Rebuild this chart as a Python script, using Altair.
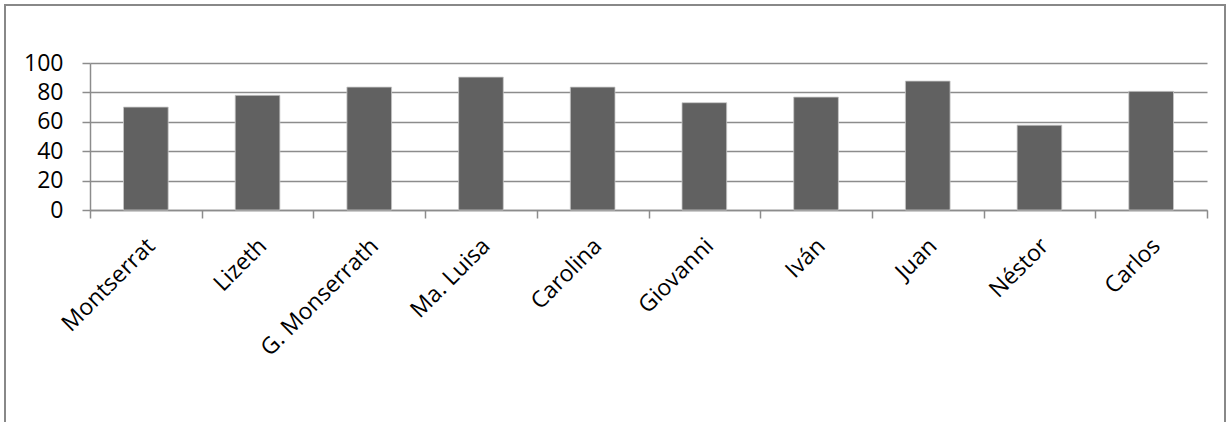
import altair as alt
import pandas as pd

# Scores per student
students = ["Montserrat", "Lizeth", "G. Monserrath", "Ma. Luisa", "Carolina",
            "Giovanni", "Iván", "Juan", "Néstor", "Carlos"]
scores = [70, 78, 83.6, 90.4, 83.6, 73, 76.8, 87.7, 57.7, 80.7]
y_ticks = [0, 20, 40, 60, 80, 100]

df = pd.DataFrame({"alumno": students, "puntaje": scores})

FONT = "Open Sans"
GRAY = "#8c8c8c"

bars = alt.Chart(df).mark_bar(
    color="#616161", stroke="#c8c8c8", strokeWidth=0.8,
    width=alt.RelativeBandSize(0.4),
).encode(
    x=alt.X(
        "alumno:N",
        sort=students,
        title=None,
        scale=alt.Scale(paddingInner=0, paddingOuter=0),
        axis=alt.Axis(
            labelAngle=-45,
            labelAlign="right",
            labelBaseline="middle",
            labelPadding=24,
            labelOffset=5,
            tickBand="extent",
            tickSize=8,
            tickColor=GRAY,
            tickWidth=1.5,
            domainColor=GRAY,
            domainWidth=1.5,
            labelFont=FONT,
            labelFontSize=23,
            labelColor="#000000",
            grid=False,
        ),
    ),
    y=alt.Y(
        "puntaje:Q",
        title=None,
        scale=alt.Scale(domain=[0, 100], nice=False),
        axis=alt.Axis(
            values=y_ticks,
            tickSize=8,
            tickColor=GRAY,
            tickWidth=1.5,
            domainColor=GRAY,
            domainWidth=1.5,
            gridColor=GRAY,
            gridWidth=1.5,
            labelPadding=19,
            labelFont=FONT,
            labelFontSize=23,
            labelColor="#000000",
        ),
    ),
)

# Outer frame around the whole chart
frame = alt.Chart(df).mark_rect(
    fill=None, stroke="#888888", strokeWidth=1.5
).encode(
    x=alt.value(-85), x2=alt.value(1135),
    y=alt.value(-58), y2=alt.value(400),
)

chart = alt.layer(frame, bars).properties(
    width=1117,
    height=147,
    autosize=alt.AutoSizeParams(type="none"),
    padding={"left": 90, "top": 63, "right": 19, "bottom": 212},
    background="white",
).configure_view(stroke=None)

chart.save("out.html", embed_options={"renderer": "svg", "actions": False})
